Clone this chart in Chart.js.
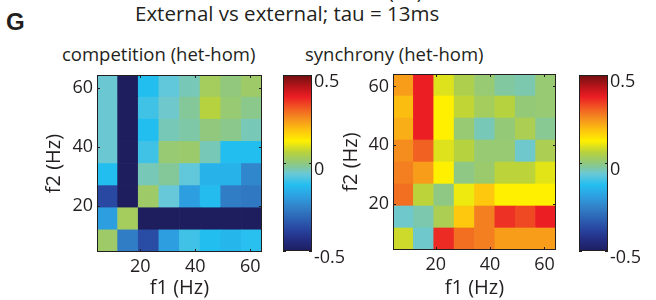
<!DOCTYPE html>
<html>
<head>
<meta charset="utf-8">
<script src="https://cdn.jsdelivr.net/npm/chart.js@4.4.1/dist/chart.umd.min.js"></script>
<style>
  body { margin: 0; background: #fff; }
  #wrap { position: relative; width: 656px; height: 300px; overflow: hidden;
          font-family: 'Open Sans', sans-serif; color: #231f20; }
  #wrap canvas { position: absolute; left: 0; top: 0; }
  .txt { position: absolute; white-space: nowrap; line-height: 1; }
</style>
</head>
<body>
<div id="wrap">
  <div class="txt" style="left:366px; top:-17px; font-size:19px;">f1 (Hz)</div>
  <div class="txt" style="left:6px; top:8px; font: bold 24px 'Liberation Sans', Arial, sans-serif;">G</div>
  <div class="txt" style="left:135px; top:3px; font-size:20.5px;">External vs external; tau = 13ms</div>
  <div class="txt" style="left:62px; top:45px; font-size:18.5px;">competition (het-hom)</div>
  <div class="txt" style="left:305px; top:45px; font-size:18.5px;">synchrony (het-hom)</div>
  <canvas id="compMap" width="656" height="300"></canvas>
  <canvas id="compBar" width="656" height="300"></canvas>
  <canvas id="syncMap" width="656" height="300"></canvas>
  <canvas id="syncBar" width="656" height="300"></canvas>
</div>
<script>
// frequency bins in Hz, same for f1 (columns) and f2 (rows)
var freqs = [8, 15.5, 23, 30.5, 38, 45.5, 53, 60.5];
var freqTicks = [20, 40, 60];
var cbarTicks = [-0.5, 0, 0.5];

// rows listed from top (f2 = 60.5) to bottom (f2 = 8), columns f1 = 8 .. 60.5
var competition = [
  [-0.06, -0.5, -0.125, -0.07, -0.04, 0.03, 0.0, 0.02],
  [-0.06, -0.5, -0.10, -0.055, -0.02, 0.06, 0.01, -0.01],
  [-0.06, -0.5, -0.125, -0.04, -0.03, 0.0, -0.01, -0.04],
  [-0.06, -0.5, -0.10, 0.01, 0.015, -0.04, -0.125, -0.125],
  [-0.125, -0.5, -0.04, -0.02, -0.07, -0.15, -0.15, -0.24],
  [-0.37, -0.5, 0.02, -0.065, -0.19, -0.13, -0.26, -0.27],
  [-0.19, 0.03, -0.5, -0.5, -0.5, -0.5, -0.5, -0.5],
  [0.02, -0.26, -0.36, -0.19, -0.10, -0.125, -0.14, -0.12]
];
var synchrony = [
  [0.235, 0.375, 0.095, 0.045, 0.01, -0.025, -0.035, 0.01],
  [0.195, 0.375, 0.125, 0.07, 0.03, 0.06, 0.005, 0.01],
  [0.215, 0.375, 0.125, 0.01, -0.04, 0.005, 0.04, -0.015],
  [0.255, 0.305, 0.095, 0.06, 0.01, 0.01, -0.055, 0.04],
  [0.27, 0.235, 0.125, -0.005, 0.015, 0.065, 0.065, 0.10],
  [0.29, 0.065, -0.005, 0.11, 0.18, 0.125, 0.125, 0.125],
  [-0.055, -0.035, 0.04, 0.18, 0.27, 0.355, 0.33, 0.375],
  [0.08, -0.055, 0.36, 0.29, 0.27, 0.235, 0.235, 0.235]
];

// jet as it looks after the print conversion in the figure
var cmapStops = [
  [0, 30, 30, 95], [0.0625, 35, 45, 130], [0.125, 40, 70, 160], [0.1875, 45, 100, 180],
  [0.25, 50, 130, 200], [0.3125, 45, 160, 225], [0.375, 35, 190, 240], [0.4375, 105, 200, 215],
  [0.5, 145, 200, 125], [0.5625, 185, 210, 60], [0.625, 255, 240, 0], [0.6875, 253, 195, 15],
  [0.75, 245, 145, 30], [0.8125, 240, 90, 35], [0.875, 235, 30, 36], [0.9375, 180, 20, 25],
  [1, 110, 15, 15]
];
function stopColor(s) { return 'rgb(' + s[1] + ',' + s[2] + ',' + s[3] + ')'; }
function cmap(v) {
  var t = Math.max(0, Math.min(1, v + 0.5));
  for (var i = 1; i < cmapStops.length; i++) {
    if (t <= cmapStops[i][0]) {
      var a = cmapStops[i - 1], b = cmapStops[i];
      var f = (t - a[0]) / (b[0] - a[0]);
      var c = [1, 2, 3].map(function(k) { return Math.round(a[k] + f * (b[k] - a[k])); });
      return 'rgb(' + c.join(',') + ')';
    }
  }
  return stopColor(cmapStops[cmapStops.length - 1]);
}

var ink = '#231f20';
var tickFont = { family: "'Open Sans', sans-serif", size: 18 };
var titleFont = { family: "'Open Sans', sans-serif", size: 20 };
var half = (freqs[1] - freqs[0]) / 2;
var fMin = freqs[0] - half, fMax = freqs[freqs.length - 1] + half;

// frame plus small inward tick marks, like matlab axes
var boxPlugin = {
  id: 'box',
  afterDatasetsDraw: function(chart) {
    var a = chart.chartArea, ctx = chart.ctx;
    ctx.save();
    ctx.strokeStyle = ink;
    ctx.lineWidth = 1;
    ctx.beginPath();
    Object.keys(chart.scales).forEach(function(id) {
      var s = chart.scales[id];
      if (!s.options.display) return;
      s.ticks.forEach(function(t) {
        var p = Math.round(s.getPixelForValue(t.value)) + 0.5;
        if (s.isHorizontal()) {
          ctx.moveTo(p, a.bottom); ctx.lineTo(p, a.bottom - 3);
          ctx.moveTo(p, a.top); ctx.lineTo(p, a.top + 3);
        } else {
          ctx.moveTo(a.left, p); ctx.lineTo(a.left + 3, p);
          ctx.moveTo(a.right, p); ctx.lineTo(a.right - 3, p);
        }
      });
    });
    ctx.stroke();
    ctx.strokeRect(Math.round(a.left) + 0.5, Math.round(a.top) + 0.5,
                   Math.round(a.right - a.left) - 1, Math.round(a.bottom - a.top) - 1);
    ctx.restore();
  }
};

function heatmap(id, rows, area) {
  var pts = [], colors = [];
  rows.forEach(function(row, r) {
    var f2 = freqs[freqs.length - 1 - r];
    row.forEach(function(v, c) {
      pts.push({ x: freqs[c], y: [f2 - half, f2 + half] });
      colors.push(cmap(v));
    });
  });
  new Chart(document.getElementById(id), {
    type: 'bar',
    data: { datasets: [{ data: pts, backgroundColor: colors, borderWidth: 0,
                         barPercentage: 1, categoryPercentage: 1 }] },
    options: {
      responsive: false,
      animation: false,
      layout: { padding: { left: area.titleLeft, top: area.top, right: 656 - area.right, bottom: 0 } },
      plugins: { legend: { display: false }, tooltip: { enabled: false } },
      scales: {
        x: {
          type: 'linear', min: fMin, max: fMax, offset: false,
          afterBuildTicks: function(s) { s.ticks = freqTicks.map(function(v) { return { value: v }; }); },
          afterFit: function(s) { s.height = 300 - area.bottom; },
          grid: { display: false, drawTicks: false },
          border: { display: false },
          ticks: { padding: 4, font: tickFont, color: ink, maxRotation: 0, autoSkip: false,
                   callback: function(v) { return String(v); } },
          title: { display: true, text: 'f1 (Hz)', font: titleFont, color: ink, padding: 0 }
        },
        y: {
          type: 'linear', min: fMin, max: fMax,
          afterBuildTicks: function(s) { s.ticks = freqTicks.map(function(v) { return { value: v }; }); },
          afterFit: function(s) { s.width = area.left - area.titleLeft; },
          grid: { display: false, drawTicks: false },
          border: { display: false },
          ticks: { padding: 4, font: tickFont, color: ink, autoSkip: false,
                   callback: function(v) { return String(v); } },
          title: { display: true, text: 'f2 (Hz)', font: titleFont, color: ink, padding: { top: 4 } }
        }
      }
    },
    plugins: [boxPlugin]
  });
}

function colorbar(id, area) {
  new Chart(document.getElementById(id), {
    type: 'bar',
    data: {
      labels: [''],
      datasets: [{
        data: [[cbarTicks[0], cbarTicks[cbarTicks.length - 1]]],
        backgroundColor: function(ctx) {
          var ca = ctx.chart.chartArea;
          if (!ca) return null;
          var g = ctx.chart.ctx.createLinearGradient(0, ca.bottom, 0, ca.top);
          cmapStops.forEach(function(s) { g.addColorStop(s[0], stopColor(s)); });
          return g;
        },
        borderWidth: 0, barPercentage: 1, categoryPercentage: 1
      }]
    },
    options: {
      responsive: false,
      animation: false,
      layout: { padding: { left: area.left, top: area.top, right: 656 - area.right - 40, bottom: 300 - area.bottom } },
      plugins: { legend: { display: false }, tooltip: { enabled: false } },
      scales: {
        x: { display: false },
        y: {
          position: 'right', min: -0.5, max: 0.5,
          afterBuildTicks: function(s) { s.ticks = cbarTicks.map(function(v) { return { value: v }; }); },
          afterFit: function(s) { s.width = 40; },
          grid: { display: false, drawTicks: false },
          border: { display: false },
          ticks: { padding: 2, labelOffset: 7, font: tickFont, color: ink,
                   callback: function(v) { return String(v); } }
        }
      }
    },
    plugins: [boxPlugin]
  });
}

heatmap('compMap', competition, { titleLeft: 38, left: 97, right: 262, top: 75, bottom: 252 });
colorbar('compBar', { left: 283, right: 312, top: 75, bottom: 251 });
heatmap('syncMap', synchrony, { titleLeft: 335, left: 393, right: 556, top: 74, bottom: 250 });
colorbar('syncBar', { left: 579, right: 608, top: 75, bottom: 251 });
</script>
</body>
</html>
